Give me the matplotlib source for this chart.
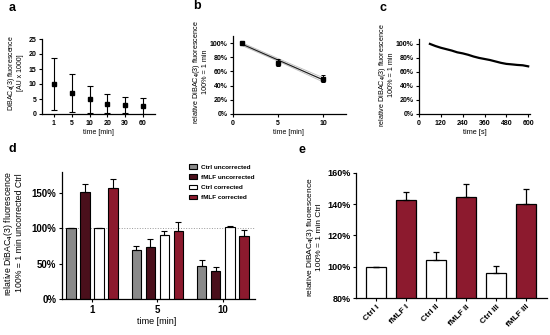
import numpy as np
import matplotlib
matplotlib.use("Agg")
import matplotlib.pyplot as plt
from matplotlib.patches import Patch

plt.rcParams['font.family'] = 'Liberation Sans'
plt.rcParams['font.weight'] = 'bold'
plt.rcParams['mathtext.fontset'] = 'custom'
plt.rcParams['mathtext.rm'] = 'Liberation Sans:bold'
plt.rcParams['mathtext.it'] = 'Liberation Sans:bold'
plt.rcParams['mathtext.bf'] = 'Liberation Sans:bold'
plt.rcParams['axes.linewidth'] = 0.9

W, H = 550, 335
GRAY = '#8a8a8a'
DARK = '#4a0f1b'
RED = '#8c1a2e'

# panel a
a_times = ['1', '5', '10', '20', '30', '60']
a_mean = [10, 7, 5, 3.5, 3, 2.8]
a_err = [8.8, 6.2, 4.5, 3.3, 2.8, 2.7]

# panel b
b_time = [1, 5, 10]
b_mean = [100, 72, 50]
b_err = [0, 5, 4.5]
b_fit_x = [1, 10]
b_fit_y = [98.5, 48]
b_band_x = [1, 5.5, 10]
b_band_hi = [100.5, 75.5, 51]
b_band_lo = [96.5, 71.5, 45]

# panel c
c_time = [60, 90, 120, 150, 180, 210, 240, 270, 300, 330, 360, 390, 420,
          450, 480, 510, 540, 570, 600]
c_val = [100, 97, 94.5, 92.5, 90.5, 88, 86.5, 84.5, 82, 80, 78.5, 77, 75,
         73, 71.5, 70.8, 70, 69.5, 68]

# panel d
d_groups = ['1', '5', '10']
d_series = ['Ctrl uncorrected', 'fMLF uncorrected', 'Ctrl corrected', 'fMLF corrected']
d_colors = [GRAY, DARK, 'white', RED]
d_vals = [[100, 70, 47],
          [151, 73, 40],
          [100, 91, 102],
          [157, 97, 89]]
d_errs = [[0, 5, 8],
          [12, 12, 6],
          [0, 5, 1],
          [13, 12, 9]]

# panel e
e_labels = ['Ctrl I', 'fMLF I', 'Ctrl II', 'fMLF II', 'Ctrl III', 'fMLF III']
e_vals = [100, 143, 104, 144.5, 96, 140]
e_errs = [0, 5, 5.5, 8.5, 4.5, 10]
e_colors = ['white', RED, 'white', RED, 'white', RED]

fig = plt.figure(figsize=(W / 100, H / 100), dpi=100)


def px_axes(l, t, r, b):
    return fig.add_axes([l / W, 1 - b / H, (r - l) / W, (b - t) / H])


def style(ax, fs):
    ax.spines['top'].set_visible(False)
    ax.spines['right'].set_visible(False)
    ax.tick_params(labelsize=fs, length=2.5, width=0.8, pad=1.5)


def label_at(ax, axis, x, y, l, t, r, b):
    # centre the axis label at pixel (x, y) of the figure
    ax_x = (x - l) / (r - l)
    ax_y = (b - y) / (b - t)
    a = getattr(ax, axis + 'axis')
    a.set_label_coords(ax_x, ax_y)
    a.label.set_va('center')
    a.label.set_ha('center')


def pct(v, pos):
    return '%d%%' % v


# ---- a
box = (42, 39, 155, 114)
ax = px_axes(*box)
style(ax, 5)
xa = np.arange(len(a_times))
ax.errorbar(xa, a_mean, yerr=a_err, fmt='s', color='black', ms=3,
            elinewidth=0.8, capsize=2, capthick=0.8)
ax.set_xticks(xa, a_times)
ax.set_xlim(-0.67, 5.67)
ax.set_ylim(0, 25)
ax.set_yticks([0, 5, 10, 15, 20, 25])
ax.set_ylabel('DiBAC$_4$(3) fluorescence\n[AU x 1000]', fontsize=5, linespacing=1.1)
ax.set_xlabel('time [min]', fontsize=5)
label_at(ax, 'y', 15, 73, *box)
label_at(ax, 'x', 98, 132, *box)

# ---- b
box = (233, 36, 346, 114)
ax = px_axes(*box)
style(ax, 5)
ax.plot(b_band_x, b_band_hi, color='#bbbbbb', lw=0.6)
ax.plot(b_band_x, b_band_lo, color='#bbbbbb', lw=0.6)
ax.plot(b_fit_x, b_fit_y, color='#222222', lw=0.9)
ax.errorbar(b_time, b_mean, yerr=b_err, fmt='s', color='black', ms=2.2,
            elinewidth=0.7, capsize=1.5, capthick=0.7)
ax.set_xlim(0, 12.5)
ax.set_ylim(0, 110)
ax.set_xticks([0, 5, 10])
ax.set_yticks([0, 20, 40, 60, 80, 100])
ax.yaxis.set_major_formatter(pct)
ax.set_ylabel('relative DiBAC$_4$(3) fluorescence\n100% = 1 min', fontsize=5.2, linespacing=1.1)
ax.set_xlabel('time [min]', fontsize=5)
label_at(ax, 'y', 200, 72, *box)
label_at(ax, 'x', 288, 132, *box)

# ---- c
box = (419, 39, 530, 114)
ax = px_axes(*box)
style(ax, 5)
ax.plot(c_time, c_val, color='black', lw=1.6)
ax.set_xlim(0, 610)
ax.set_ylim(0, 107)
ax.set_xticks([0, 120, 240, 360, 480, 600])
ax.set_yticks([0, 20, 40, 60, 80, 100])
ax.yaxis.set_major_formatter(pct)
ax.set_ylabel('relative DiBAC$_4$(3) fluorescence\n100% = 1 min', fontsize=5.2, linespacing=1.1)
ax.set_xlabel('time [s]', fontsize=5.3)
label_at(ax, 'y', 386, 75, *box)
label_at(ax, 'x', 475, 132, *box)

# ---- d
box = (62, 172, 255, 299)
ax = px_axes(*box)
style(ax, 7)
xd = np.arange(len(d_groups))
step = 0.214
width = 0.14
ax.axhline(100, color='#999999', lw=0.7, ls=':', zorder=0)
for i in range(len(d_series)):
    off = (i - 1.5) * step
    ax.bar(xd + off, d_vals[i], width, color=d_colors[i], edgecolor='black',
           linewidth=0.8, label=d_series[i],
           yerr=[np.zeros(3), d_errs[i]],
           error_kw=dict(elinewidth=0.8, capsize=2, capthick=0.8))
ax.set_xticks(xd, d_groups)
ax.set_xlim(-0.458, 2.49)
ax.set_ylim(0, 180)
ax.set_yticks([0, 50, 100, 150])
ax.yaxis.set_major_formatter(pct)
ax.set_ylabel('relative DiBAC$_4$(3) fluorescence\n100% = 1 min uncorrected Ctrl',
              fontsize=6.3, linespacing=1.1)
ax.set_xlabel('time [min]', fontsize=6.5)
label_at(ax, 'y', 13, 233, *box)
label_at(ax, 'x', 157, 322, *box)
handles = [Patch(facecolor=c, edgecolor='black', linewidth=0.8) for c in d_colors]
fig.legend(handles, d_series, loc='upper left',
           bbox_to_anchor=(186 / W, 1 - 161 / H), frameon=False,
           fontsize=4.6, handlelength=1.2, handleheight=0.7, handletextpad=0.6,
           labelspacing=0.75, borderpad=0)

# ---- e
box = (356, 173, 547, 298)
ax = px_axes(*box)
style(ax, 6.5)
ax.tick_params(axis='x', labelsize=6)
xe = np.arange(len(e_labels))
ax.bar(xe, e_vals, 0.66, color=e_colors, edgecolor='black', linewidth=0.9,
       yerr=[np.zeros(len(e_errs)), e_errs],
       error_kw=dict(elinewidth=0.9, capsize=2.5, capthick=0.9))
ax.set_xticks(xe, e_labels, rotation=45, ha='right', rotation_mode='anchor')
ax.set_xlim(-0.67, 5.7)
ax.set_ylim(80, 160)
ax.set_yticks([80, 100, 120, 140, 160])
ax.yaxis.set_major_formatter(pct)
ax.set_ylabel('relative DiBAC$_4$(3) fluorescence\n100% = 1 min Ctrl',
              fontsize=6, linespacing=1.1)
label_at(ax, 'y', 314, 237, *box)

# panel letters
for letter, x, y in [('a', 12, 8), ('b', 197, 6), ('c', 383, 8),
                     ('d', 12, 149), ('e', 302, 150)]:
    fig.text(x / W, 1 - y / H, letter, fontsize=9, fontweight='bold',
             ha='center', va='center')

fig.savefig('out.png', dpi=100)
